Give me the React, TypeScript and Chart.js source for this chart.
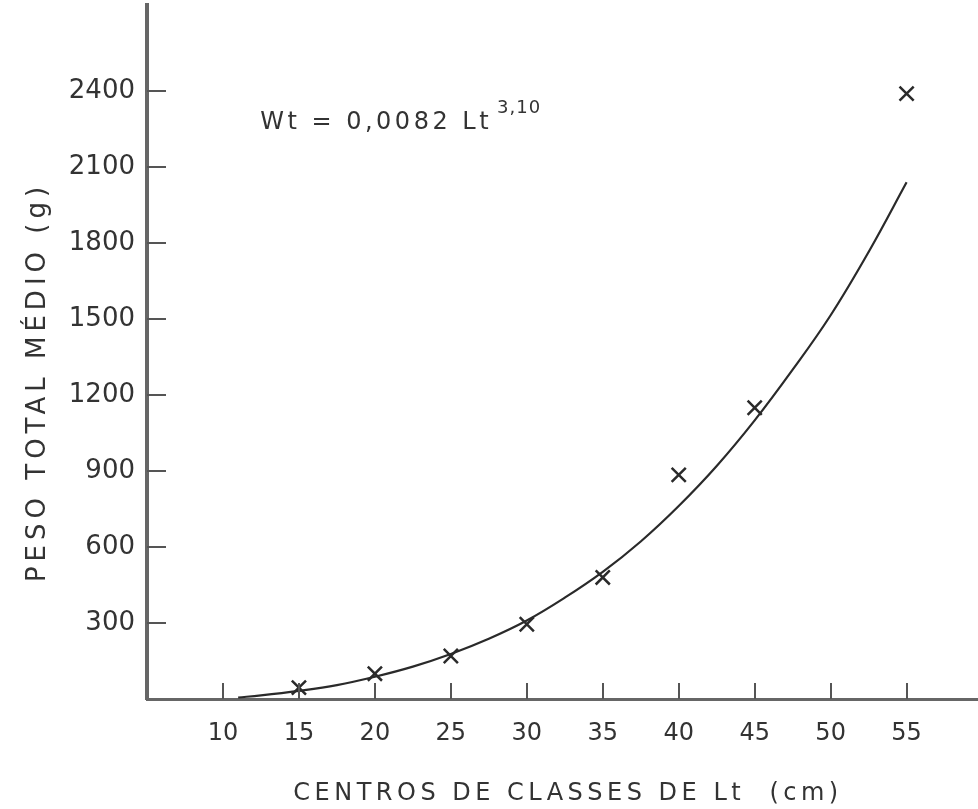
import React, { useEffect, useRef } from "react";
import { Chart, registerables } from "chart.js";

Chart.register(...registerables);

// Observed class centres (cm) and mean total weight (g)
const classCenters = [15, 20, 25, 30, 35, 40, 45, 55];
const meanWeights = [45, 100, 170, 295, 480, 885, 1150, 2390];

// Fitted curve
const curveLengths = [11, 12.5, 15, 17.5, 20, 22.5, 25, 27.5, 30, 32.5, 35, 37.5, 40, 42.5, 45, 47.5, 50, 52.5, 55];
const curveWeights = [6, 14, 32, 55, 88, 128, 178, 238, 310, 400, 502, 622, 762, 920, 1100, 1300, 1515, 1765, 2040];

// Tick labels
const xTickValues = [10, 15, 20, 25, 30, 35, 40, 45, 50, 55];
const yTickValues = [300, 600, 900, 1200, 1500, 1800, 2100, 2400];

const xTitle = "CENTROS DE CLASSES DE Lt  (cm)";
const yTitle = "PESO TOTAL MÉDIO (g)";
const formulaMain = "Wt = 0,0082 Lt";
const formulaSup = "3,10";

const FONT = "'DejaVu Sans', sans-serif";
const INK = "#333333";

export default function App() {
  const ref = useRef<HTMLCanvasElement | null>(null);

  useEffect(() => {
    if (!ref.current) return;
    const overlay = {
      id: "overlay",
      afterDraw(chart: any) {
        const ctx = chart.ctx as CanvasRenderingContext2D;
        const xs = chart.scales.x;
        const ys = chart.scales.y;
        const area = chart.chartArea;
        ctx.save();
        // inward ticks
        ctx.strokeStyle = "#555";
        ctx.lineWidth = 2;
        xTickValues.forEach((v) => {
          const px = Math.round(xs.getPixelForValue(v));
          ctx.beginPath();
          ctx.moveTo(px, area.bottom);
          ctx.lineTo(px, area.bottom - 16);
          ctx.stroke();
        });
        yTickValues.forEach((v) => {
          const py = Math.round(ys.getPixelForValue(v));
          ctx.beginPath();
          ctx.moveTo(area.left, py);
          ctx.lineTo(area.left + 19, py);
          ctx.stroke();
        });
        // formula
        ctx.fillStyle = INK;
        (ctx as any).letterSpacing = "3.5px";
        ctx.font = `24px ${FONT}`;
        ctx.textAlign = "left";
        ctx.textBaseline = "alphabetic";
        const fx = xs.getPixelForValue(12.45);
        const fy = ys.getPixelForValue(2250);
        ctx.fillText(formulaMain, fx, fy);
        const w = ctx.measureText(formulaMain).width;
        ctx.font = `18px ${FONT}`;
        (ctx as any).letterSpacing = "1px";
        ctx.fillText(formulaSup, fx + w + 5, fy - 16);
        // x title
        (ctx as any).letterSpacing = "4.5px";
        ctx.font = `24px ${FONT}`;
        ctx.textAlign = "center";
        ctx.fillText(xTitle, 568, 800);
        // y title
        (ctx as any).letterSpacing = "5px";
        ctx.font = `26px ${FONT}`;
        ctx.translate(45, 382);
        ctx.rotate(-Math.PI / 2);
        ctx.fillText(yTitle, 0, 0);
        ctx.restore();
      },
    };

    const chart = new Chart(ref.current, {
      type: "scatter",
      data: {
        datasets: [
          {
            label: "observed",
            data: classCenters.map((x, i) => ({ x, y: meanWeights[i] })),
            pointStyle: "crossRot",
            pointRadius: 10,
            pointBorderWidth: 2.5,
            borderColor: "#2a2a2a",
            backgroundColor: "#2a2a2a",
            showLine: false,
          },
          {
            label: "fit",
            data: curveLengths.map((x, i) => ({ x, y: curveWeights[i] })),
            showLine: true,
            pointRadius: 0,
            borderColor: "#2a2a2a",
            borderWidth: 2.2,
            tension: 0.4,
            fill: false,
          },
        ],
      },
      options: {
        responsive: false,
        animation: false,
        devicePixelRatio: 1,
        layout: { autoPadding: false, padding: { top: 5, right: 0, left: 0, bottom: 0 } },
        plugins: {
          legend: { display: false },
          tooltip: { enabled: false },
          title: { display: false },
        },
        scales: {
          x: {
            type: "linear",
            min: 5,
            max: 59.7,
            grid: { display: false, drawTicks: false },
            border: { display: true, color: "#666", width: 3 },
            ticks: {
              autoSkip: false,
              maxRotation: 0,
              minRotation: 0,
              padding: 20,
              color: INK,
              font: { family: FONT, size: 24 },
              callback: (v: any) => String(v),
            },
            afterBuildTicks: (s: any) => {
              s.ticks = xTickValues.map((v) => ({ value: v }));
            },
            afterFit: (s: any) => {
              s.height = 110;
              s.paddingLeft = 0;
              s.paddingRight = 0;
            },
          },
          y: {
            type: "linear",
            min: 0,
            max: 2740,
            grid: { display: false, drawTicks: false },
            border: { display: true, color: "#666", width: 4 },
            ticks: {
              autoSkip: false,
              padding: 12,
              color: INK,
              font: { family: FONT, size: 26 },
              callback: (v: any) => String(v),
            },
            afterBuildTicks: (s: any) => {
              s.ticks = yTickValues.map((v) => ({ value: v }));
            },
            afterFit: (s: any) => {
              s.width = 147;
              s.paddingTop = 0;
              s.paddingBottom = 0;
            },
          },
        },
      },
      plugins: [overlay],
    });
    return () => chart.destroy();
  }, []);

  return (
    <div style={{ position: "fixed", left: 0, top: 0, width: 978, height: 809, background: "#fff" }}>
      <canvas ref={ref} width={978} height={809} />
    </div>
  );
}
